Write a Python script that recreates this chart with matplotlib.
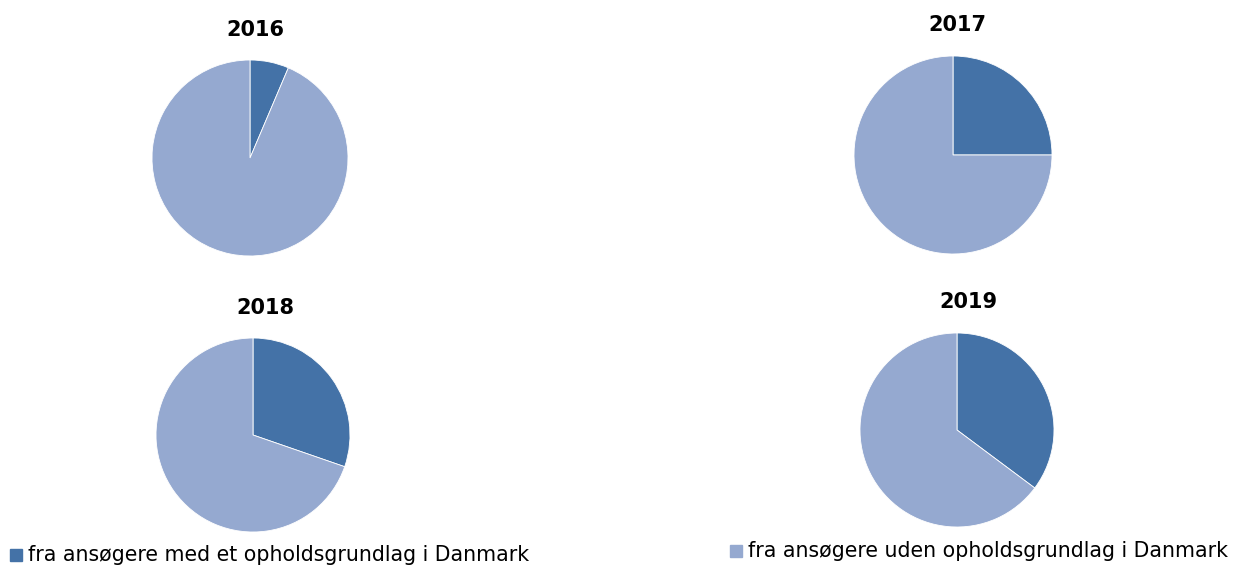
import matplotlib.pyplot as plt
from matplotlib.patches import Rectangle

# share of applications per year (percent)
years = ['2016', '2017', '2018', '2019']
med_grundlag = [6.4, 25.0, 30.3, 35.2]
uden_grundlag = [100 - v for v in med_grundlag]
labels = ['fra ansøgere med et opholdsgrundlag i Danmark',
          'fra ansøgere uden opholdsgrundlag i Danmark']
colors = ['#4472a7', '#95a9d0']

W, H = 1236, 566
fig = plt.figure(figsize=(W / 100, H / 100), dpi=100)

# pie centres / radius in pixels, title position in pixels
centres = [(250, 158, 98), (953, 155, 99), (253, 435, 97), (957, 430, 97)]
title_pos = [(255, 30), (957, 25), (265, 308), (968, 302)]

for i, year in enumerate(years):
    cx, cy, r = centres[i]
    ax = fig.add_axes([(cx - r) / W, (H - cy - r) / H, 2 * r / W, 2 * r / H])
    ax.pie([med_grundlag[i], uden_grundlag[i]], colors=colors, startangle=90,
           counterclock=False, radius=1,
           wedgeprops=dict(edgecolor='white', linewidth=0.6))
    ax.set_xlim(-1, 1)
    ax.set_ylim(-1, 1)
    ax.axis('off')
    tx, ty = title_pos[i]
    fig.text(tx / W, 1 - ty / H, year, ha='center', va='center',
             fontsize=15, fontweight='bold')

# legend entries
leg = [(10, 555, 28, 0), (730, 551, 748, 1)]
for sx, sy, tx, k in leg:
    fig.patches.append(Rectangle((sx / W, 1 - (sy + 6) / H), 12 / W, 12 / H,
                                 transform=fig.transFigure, color=colors[k]))
    fig.text(tx / W, 1 - sy / H, labels[k], ha='left', va='center',
             fontsize=14.8)

fig.savefig('out.png', dpi=100)
